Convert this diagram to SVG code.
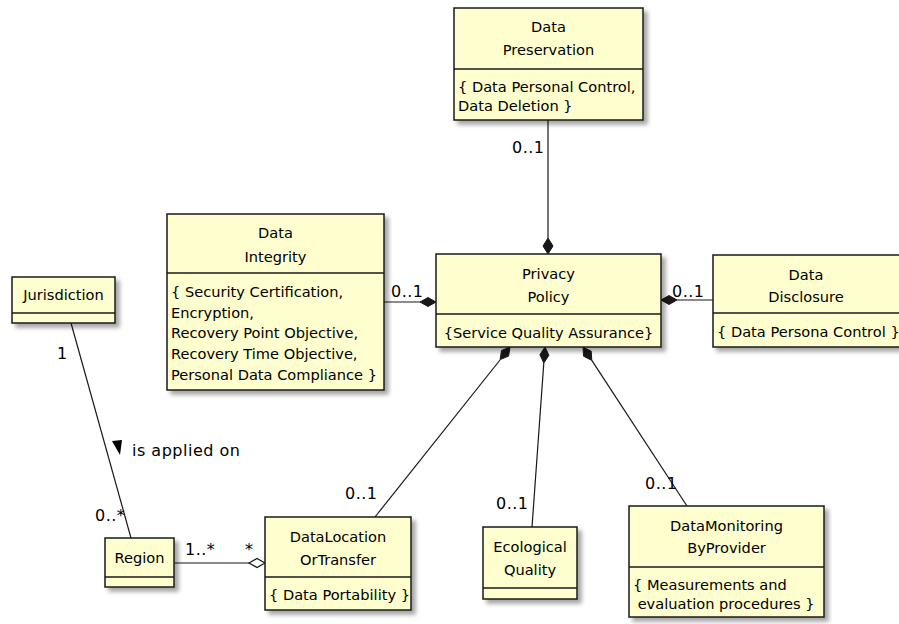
<svg xmlns="http://www.w3.org/2000/svg" width="899" height="624" viewBox="0 0 899 624">
<style>
.box{fill:#FEFECE;stroke:#181818;stroke-width:1.5;filter:url(#sh)}
.div{stroke:#181818;stroke-width:1.5}
.t{font-family:"DejaVu Sans","Liberation Sans",Arial,sans-serif;font-size:14.6px;fill:#000}
.lb{font-family:"DejaVu Sans","Liberation Sans",Arial,sans-serif;font-size:16px;letter-spacing:0.5px;fill:#000}
.c{text-anchor:middle}
.ln{stroke:#181818;stroke-width:1.2;fill:none}
.fd{fill:#181818;stroke:#181818;stroke-width:1}
.hd{fill:#fff;stroke:#181818;stroke-width:1.2}
</style>
<defs>
<filter id="sh" x="-10%" y="-10%" width="130%" height="130%">
<feDropShadow dx="4" dy="4" stdDeviation="2" flood-color="#000" flood-opacity="0.35"/>
</filter>
</defs>
<rect width="899" height="624" fill="#fff"/>
<g id="connectors">
<line class="ln" x1="548" y1="120" x2="548" y2="238"/>
<polygon class="fd" points="548,254 553,246 548,238 543,246"/>
<text class="lb" x="512" y="153">0..1</text>
<line class="ln" x1="384" y1="302" x2="420" y2="302"/>
<polygon class="fd" points="436,302 428,297.5 420,302 428,306.5"/>
<text class="lb" x="391" y="297">0..1</text>
<line class="ln" x1="677" y1="300" x2="713" y2="300"/>
<polygon class="fd" points="661,300 669,295.5 677,300 669,304.5"/>
<text class="lb" x="672" y="297">0..1</text>
<line class="ln" x1="375" y1="517" x2="500" y2="360"/>
<polygon class="fd" points="510,347 508.6,356.1 500.1,359.6 501.5,350.5"/>
<text class="lb" x="345" y="499">0..1</text>
<line class="ln" x1="532" y1="527" x2="543.8" y2="363"/>
<polygon class="fd" points="545,347 548.9,355.3 543.8,363 539.9,354.7"/>
<text class="lb" x="496" y="509">0..1</text>
<line class="ln" x1="687" y1="506" x2="591.8" y2="360.4"/>
<polygon class="fd" points="583,347 591.2,351.2 591.8,360.4 583.6,356.2"/>
<text class="lb" x="645" y="489">0..1</text>
<line class="ln" x1="71" y1="323" x2="131" y2="538"/>
<text class="lb" x="57" y="359">1</text>
<text class="lb" x="95" y="521">0..*</text>
<polygon fill="#000" points="112,441 122,440 120,455"/>
<text class="lb" x="132" y="456">is applied on</text>
<line class="ln" x1="174" y1="563" x2="249" y2="563"/>
<polygon class="hd" points="249,563 257,558.5 265,563 257,567.5"/>
<text class="lb" x="185" y="555">1..*</text>
<text class="lb" x="245" y="555">*</text>
</g>
<g id="DataPreservation">
<rect class="box" x="454" y="8" width="189" height="112"/>
<line class="div" x1="454" y1="69" x2="643" y2="69"/>
<text class="t c" x="548.5" y="32">Data</text>
<text class="t c" x="548.5" y="55">Preservation</text>
<text class="t" x="458" y="92">{ Data Personal Control,</text>
<text class="t" x="458" y="111">Data Deletion }</text>
</g>
<g id="DataIntegrity">
<rect class="box" x="167" y="214" width="217" height="176"/>
<line class="div" x1="167" y1="273" x2="384" y2="273"/>
<text class="t c" x="275.5" y="238">Data</text>
<text class="t c" x="275.5" y="262">Integrity</text>
<text class="t" x="171" y="297">{ Security Certification,</text>
<text class="t" x="171" y="318">Encryption,</text>
<text class="t" x="171" y="338">Recovery Point Objective,</text>
<text class="t" x="171" y="359">Recovery Time Objective,</text>
<text class="t" x="171" y="380">Personal Data Compliance }</text>
</g>
<g id="PrivacyPolicy">
<rect class="box" x="436" y="254" width="225" height="93"/>
<line class="div" x1="436" y1="314" x2="661" y2="314"/>
<text class="t c" x="548.5" y="279">Privacy</text>
<text class="t c" x="548.5" y="302">Policy</text>
<text class="t c" x="548.5" y="338">{Service Quality Assurance}</text>
</g>
<g id="DataDisclosure">
<rect class="box" x="713" y="255" width="189" height="92"/>
<line class="div" x1="713" y1="313" x2="902" y2="313"/>
<text class="t c" x="806" y="280">Data</text>
<text class="t c" x="806" y="302">Disclosure</text>
<text class="t" x="717" y="337">{ Data Persona Control }</text>
</g>
<g id="Jurisdiction">
<rect class="box" x="12" y="277" width="103" height="46"/>
<line class="div" x1="12" y1="313" x2="115" y2="313"/>
<text class="t c" x="63.5" y="300">Jurisdiction</text>
</g>
<g id="Region">
<rect class="box" x="105" y="538" width="69" height="49"/>
<line class="div" x1="105" y1="577" x2="174" y2="577"/>
<text class="t c" x="139.5" y="563">Region</text>
</g>
<g id="DataLocationOrTransfer">
<rect class="box" x="265" y="517" width="146" height="93"/>
<line class="div" x1="265" y1="577" x2="411" y2="577"/>
<text class="t c" x="338" y="542">DataLocation</text>
<text class="t c" x="338" y="565">OrTransfer</text>
<text class="t" x="269" y="600">{ Data Portability }</text>
</g>
<g id="EcologicalQuality">
<rect class="box" x="483" y="527" width="94" height="72"/>
<line class="div" x1="483" y1="588" x2="577" y2="588"/>
<text class="t c" x="530" y="552">Ecological</text>
<text class="t c" x="530" y="575">Quality</text>
</g>
<g id="DataMonitoringByProvider">
<rect class="box" x="629" y="506" width="195" height="111"/>
<line class="div" x1="629" y1="567" x2="824" y2="567"/>
<text class="t c" x="726.5" y="531">DataMonitoring</text>
<text class="t c" x="726.5" y="553">ByProvider</text>
<text class="t" x="633" y="590">{ Measurements and</text>
<text class="t" x="633" y="609" xml:space="preserve"> evaluation procedures }</text>
</g>
</svg>
